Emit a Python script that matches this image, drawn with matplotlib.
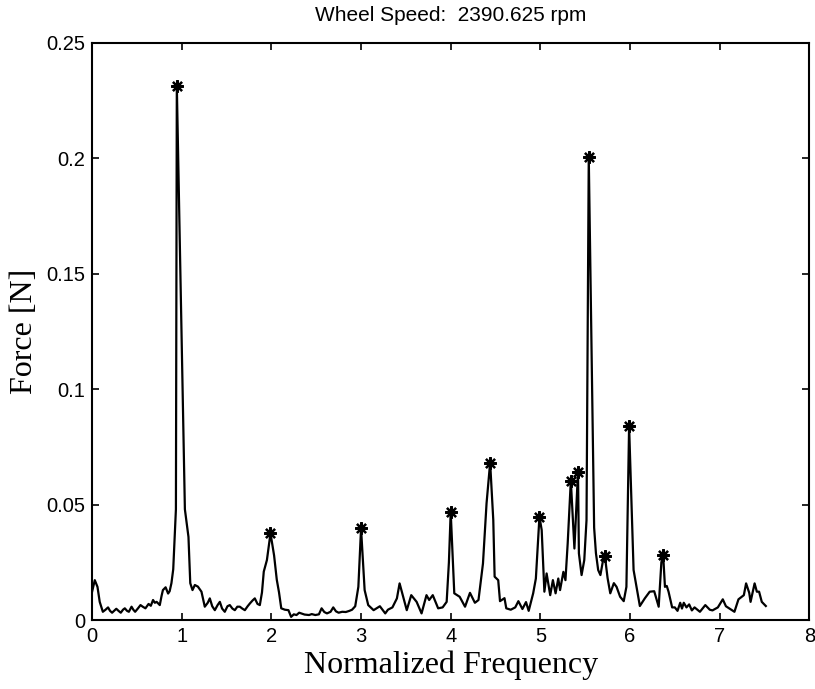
import matplotlib
matplotlib.use("Agg")
import matplotlib.pyplot as plt

# ------------------------------------------------------------
# Force spectrum at one wheel speed, with the picked harmonics
# ------------------------------------------------------------

TITLE = "Wheel Speed:  2390.625 rpm"

freq = [
    0.00, 0.03, 0.06, 0.085, 0.12, 0.15, 0.178, 0.20, 0.223, 0.25,
    0.27, 0.295, 0.32, 0.345, 0.365, 0.39, 0.41, 0.44, 0.46, 0.48,
    0.51, 0.54, 0.565, 0.595, 0.63, 0.655, 0.68, 0.70, 0.72, 0.755,
    0.775, 0.79, 0.82, 0.848, 0.865, 0.885, 0.905, 0.935, 0.945, 1.035,
    1.075, 1.095, 1.12, 1.146, 1.18, 1.22, 1.257, 1.29, 1.313, 1.34,
    1.369, 1.40, 1.425, 1.45, 1.48, 1.51, 1.536, 1.565, 1.592, 1.62,
    1.648, 1.675, 1.704, 1.735, 1.76, 1.79, 1.815, 1.845, 1.871, 1.895,
    1.915, 1.95, 1.99, 2.03, 2.06, 2.085, 2.11, 2.15, 2.19, 2.22,
    2.25, 2.28, 2.31, 2.34, 2.37, 2.42, 2.45, 2.49, 2.53, 2.56,
    2.59, 2.62, 2.66, 2.69, 2.72, 2.75, 2.79, 2.83, 2.87, 2.90,
    2.935, 2.97, 3.00, 3.04, 3.08, 3.14, 3.21, 3.27, 3.30, 3.35,
    3.40, 3.43, 3.47, 3.51, 3.56, 3.62, 3.675, 3.73, 3.76, 3.80,
    3.86, 3.91, 3.955, 3.98, 4.00, 4.02, 4.04, 4.10, 4.16, 4.215,
    4.27, 4.31, 4.36, 4.40, 4.44, 4.475, 4.49, 4.53, 4.55, 4.60,
    4.62, 4.67, 4.72, 4.755, 4.80, 4.84, 4.87, 4.92, 4.95, 4.99,
    5.015, 5.045, 5.07, 5.11, 5.14, 5.17, 5.20, 5.22, 5.257, 5.28,
    5.305, 5.34, 5.38, 5.42, 5.43, 5.46, 5.49, 5.515, 5.54, 5.60,
    5.62, 5.645, 5.67, 5.70, 5.72, 5.75, 5.78, 5.82, 5.85, 5.89,
    5.93, 5.96, 5.99, 6.04, 6.11, 6.165, 6.22, 6.27, 6.32, 6.35,
    6.37, 6.39, 6.41, 6.43, 6.47, 6.50, 6.53, 6.56, 6.58, 6.60,
    6.63, 6.66, 6.69, 6.72, 6.78, 6.84, 6.89, 6.92, 6.98, 7.035,
    7.07, 7.11, 7.165, 7.21, 7.27, 7.295, 7.33, 7.345, 7.39, 7.415,
    7.44, 7.47, 7.515,
]

force = [
    0.0123, 0.0173, 0.0144, 0.0079, 0.0036, 0.0045, 0.0055, 0.0040, 0.0032, 0.0042,
    0.0049, 0.0040, 0.0032, 0.0045, 0.0051, 0.0040, 0.0036, 0.0058, 0.0045, 0.0036,
    0.0050, 0.0065, 0.0058, 0.0051, 0.0070, 0.0062, 0.0087, 0.0075, 0.0079, 0.0065,
    0.0105, 0.0130, 0.0142, 0.0115, 0.0125, 0.0160, 0.0220, 0.0480, 0.2314, 0.0480,
    0.0360, 0.0160, 0.0130, 0.0152, 0.0145, 0.0123, 0.0058, 0.0075, 0.0094, 0.0060,
    0.0043, 0.0065, 0.0079, 0.0050, 0.0036, 0.0060, 0.0065, 0.0050, 0.0043, 0.0058,
    0.0058, 0.0050, 0.0043, 0.0060, 0.0072, 0.0085, 0.0094, 0.0070, 0.0065, 0.0120,
    0.0210, 0.0260, 0.0376, 0.0280, 0.0175, 0.0120, 0.0051, 0.0045, 0.0043, 0.0014,
    0.0025, 0.0022, 0.0032, 0.0028, 0.0024, 0.0022, 0.0026, 0.0022, 0.0025, 0.0051,
    0.0035, 0.0029, 0.0036, 0.0055, 0.0038, 0.0032, 0.0036, 0.0035, 0.0040, 0.0045,
    0.0060, 0.0144, 0.0397, 0.0130, 0.0065, 0.0043, 0.0060, 0.0029, 0.0045, 0.0055,
    0.0094, 0.0159, 0.0101, 0.0043, 0.0108, 0.0079, 0.0029, 0.0108, 0.0087, 0.0108,
    0.0051, 0.0055, 0.0079, 0.0250, 0.0469, 0.0289, 0.0116, 0.0101, 0.0058, 0.0118,
    0.0075, 0.0087, 0.0245, 0.0506, 0.0682, 0.0433, 0.0188, 0.0173, 0.0082, 0.0095,
    0.0051, 0.0045, 0.0055, 0.0082, 0.0048, 0.0078, 0.0040, 0.0116, 0.0180, 0.0448,
    0.0390, 0.0123, 0.0202, 0.0108, 0.0173, 0.0116, 0.0180, 0.0130, 0.0209, 0.0173,
    0.0332, 0.0604, 0.0310, 0.0643, 0.0289, 0.0195, 0.0260, 0.0433, 0.2006, 0.0400,
    0.0290, 0.0217, 0.0195, 0.0260, 0.0277, 0.0182, 0.0116, 0.0160, 0.0144, 0.0101,
    0.0082, 0.0144, 0.0840, 0.0217, 0.0061, 0.0094, 0.0123, 0.0125, 0.0058, 0.0250,
    0.0282, 0.0144, 0.0148, 0.0123, 0.0055, 0.0055, 0.0040, 0.0075, 0.0050, 0.0075,
    0.0055, 0.0068, 0.0042, 0.0055, 0.0036, 0.0065, 0.0045, 0.0042, 0.0055, 0.0090,
    0.0060, 0.0050, 0.0036, 0.0090, 0.0108, 0.0159, 0.0118, 0.0079, 0.0159, 0.0123,
    0.0123, 0.0079, 0.0061,
]

# picked peaks (marked with asterisks)
peak_freq = [0.945, 1.99, 3.00, 4.00, 4.44, 4.99, 5.34, 5.42, 5.54, 5.72, 5.99, 6.37]
peak_force = [0.2314, 0.0376, 0.0397, 0.0469, 0.0682, 0.0448, 0.0604, 0.0643,
              0.2006, 0.0277, 0.0840, 0.0282]

x_ticks = [0, 1, 2, 3, 4, 5, 6, 7, 8]
y_ticks = [0, 0.05, 0.1, 0.15, 0.2, 0.25]
y_tick_labels = ["0", "0.05", "0.1", "0.15", "0.2", "0.25"]

SANS = "Liberation Sans"
SERIF = "Liberation Serif"

fig = plt.figure(figsize=(8.15, 6.89), dpi=100)
ax = fig.add_axes([0.113, 0.100, 0.880, 0.838])

ax.plot(freq, force, color="black", lw=1.6)
ax.plot(peak_freq, peak_force, linestyle="none", marker=(8, 2, 0),
        markersize=9, markeredgewidth=1.6, color="black")

ax.set_xlim(0, 8)
ax.set_ylim(0, 0.25)
ax.set_xticks(x_ticks)
ax.set_xticklabels([str(t) for t in x_ticks], family=SANS, fontsize=14.5)
ax.set_yticks(y_ticks)
ax.set_yticklabels(y_tick_labels, family=SANS, fontsize=14.5)
ax.tick_params(direction="in", top=True, right=True, length=5, width=1.2, pad=5)

for s in ax.spines.values():
    s.set_linewidth(1.5)

ax.set_xlabel("Normalized Frequency", family=SERIF, fontsize=23, labelpad=3)
ax.set_ylabel("Force [N]", family=SERIF, fontsize=23, labelpad=5)

# title sits well above the frame
fig.text(0.553, 1 - 21 / 689, TITLE, family=SANS, fontsize=15,
         ha="center", va="baseline")

fig.savefig("out.png", dpi=100)
